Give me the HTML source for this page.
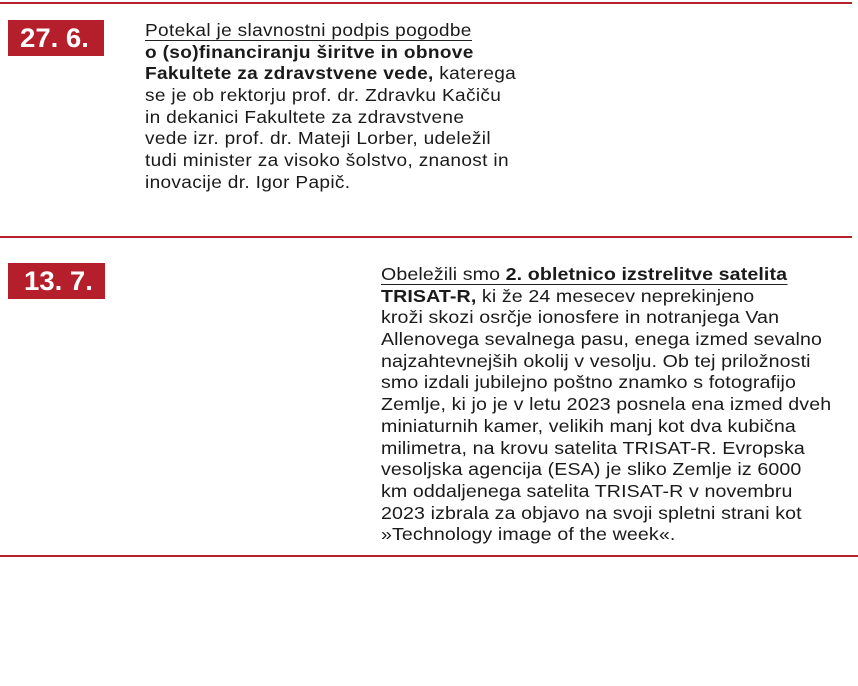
<!DOCTYPE html>
<html><head><meta charset="utf-8"><style>
body{margin:0;width:858px;height:686px;background:#fff;position:relative;overflow:hidden;font-family:"Liberation Sans",sans-serif;color:#1a1a1a}
.hr{position:absolute;left:0;width:852px;height:2px;background:#b3232f}
.box{position:absolute;background:#b51f2b;color:#fff;font-weight:bold;font-size:27px;line-height:36px;box-sizing:border-box}
.box span{display:inline-block;transform-origin:0 50%;transform:scaleX(1.02)}
.t{position:absolute;font-size:17.5px;line-height:21.7px;white-space:nowrap;transform-origin:0 0}
.t div{height:21.7px}
.u{display:inline-block;border-bottom:1.5px solid #222;line-height:19px}
</style></head><body>
<div class="hr" style="top:2px"></div>
<div class="hr" style="top:236px"></div>
<div class="hr" style="top:555px;width:858px"></div>
<div class="box" style="left:8px;top:20px;width:96px;height:36px;padding-left:12px"><span>27. 6.</span></div>
<div class="box" style="left:8px;top:263px;width:97px;height:36px;padding-left:16px"><span>13. 7.</span></div>
<div class="t" style="left:145px;top:20px;letter-spacing:0.3px;transform:scaleX(1.09)">
<div><span class="u">Potekal je slavnostni podpis pogodbe</span></div>
<div><b>o (so)financiranju širitve in obnove</b></div>
<div><b>Fakultete za zdravstvene vede,</b> katerega</div>
<div>se je ob rektorju prof. dr. Zdravku Kačiču</div>
<div>in dekanici Fakultete za zdravstvene</div>
<div>vede izr. prof. dr. Mateji Lorber, udeležil</div>
<div>tudi minister za visoko šolstvo, znanost in</div>
<div>inovacije dr. Igor Papič.</div>
</div>
<div class="t" style="left:381px;top:264px;letter-spacing:0.1px;transform:scaleX(1.12)">
<div><span class="u">Obeležili smo <b>2. obletnico izstrelitve satelita</b></span></div>
<div><b>TRISAT-R,</b> ki že 24 mesecev neprekinjeno</div>
<div>kroži skozi osrčje ionosfere in notranjega Van</div>
<div>Allenovega sevalnega pasu, enega izmed sevalno</div>
<div>najzahtevnejših okolij v vesolju. Ob tej priložnosti</div>
<div>smo izdali jubilejno poštno znamko s fotografijo</div>
<div>Zemlje, ki jo je v letu 2023 posnela ena izmed dveh</div>
<div>miniaturnih kamer, velikih manj kot dva kubična</div>
<div>milimetra, na krovu satelita TRISAT-R. Evropska</div>
<div>vesoljska agencija (ESA) je sliko Zemlje iz 6000</div>
<div>km oddaljenega satelita TRISAT-R v novembru</div>
<div>2023 izbrala za objavo na svoji spletni strani kot</div>
<div>»Technology image of the week«.</div>
</div>
</body></html>
